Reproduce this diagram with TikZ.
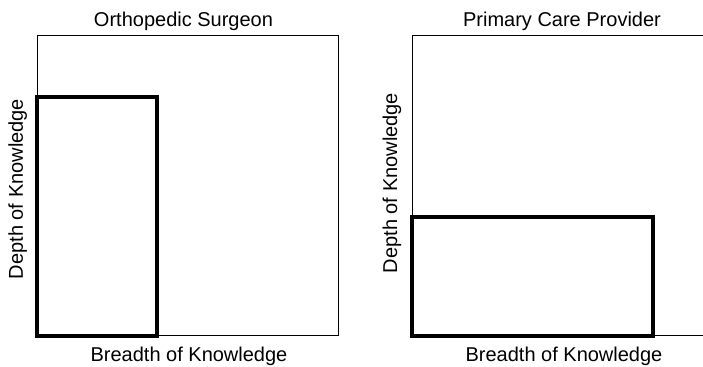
\documentclass[tikz,border=0pt]{standalone}
\usepackage{fontspec}
\setmainfont{Liberation Sans}
\usetikzlibrary{positioning}

\begin{document}
\begin{tikzpicture}[x=0.5pt, y=-0.5pt]

\useasboundingbox (0,0) rectangle (703,367);

\begin{scope}[every node/.style={font=\fontsize{10}{12}\selectfont, inner sep=0pt, anchor=base}]
    \node (titleOrtho) at (183.5,27) {Orthopedic Surgeon};
    \node (titlePCP) at (562,27) {Primary Care Provider};
    \node (breadthOrtho) at (189,362) {Breadth of Knowledge};
    \node (breadthPCP) at (564,362) {Breadth of Knowledge};
    \node[rotate=90] (depthOrtho) at (23,189) {Depth of Knowledge};
    \node[rotate=90] (depthPCP) at (397,183) {Depth of Knowledge};
\end{scope}

% axes frames
\begin{scope}[line width=0.5pt]
    \draw (37,36) rectangle (338,336);
    \draw (703,36) -- (412,36) -- (412,336) -- (703,336);
\end{scope}

% knowledge boxes
\begin{scope}[line width=1.8pt]
    \draw (37,336) rectangle (157,97);
    \draw (412,336) rectangle (653,217);
\end{scope}

\end{tikzpicture}
\end{document}
